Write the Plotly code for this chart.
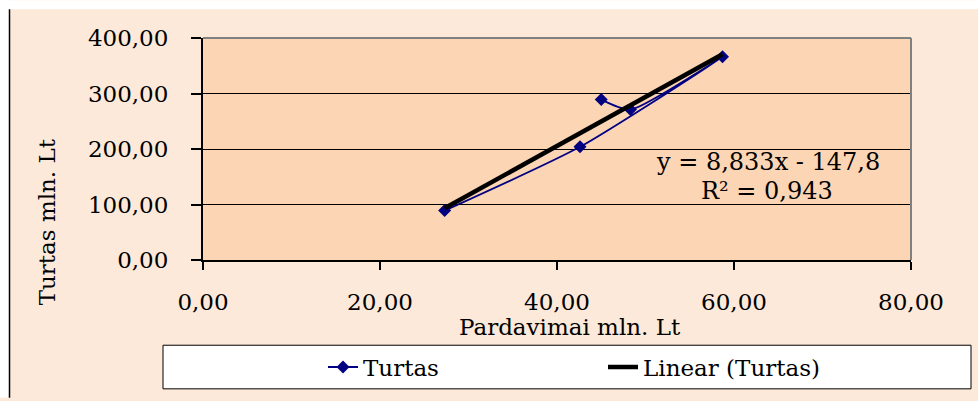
import plotly.graph_objects as go

# ---- data ----
pardavimai = [27.3, 42.6, 58.7, 48.3, 45.0]      # x, mln. Lt
turtas = [89.0, 204.0, 366.0, 271.0, 289.0]      # y, mln. Lt
trend_slope = 8.833
trend_intercept = -147.8
trend_label = "y = 8,833x - 147,8"
r2_label = "R² = 0,943"
x_ticks = [0, 20, 40, 60, 80]
y_ticks = [0, 100, 200, 300, 400]

W, H = 978, 401
L, R, T, B = 203, 911, 38, 262  # plot area in px


def px_x(p):
    return (p - L) / (R - L)


def px_y(p):
    return (B - p) / (B - T)


FONT = "DejaVu Serif"
FS = 23
NAVY = "#000080"

fig = go.Figure()

fig.add_trace(go.Scatter(
    x=pardavimai, y=turtas, name="Turtas", mode="lines+markers",
    line=dict(color=NAVY, width=1.8, shape="spline", smoothing=0.6),
    marker=dict(symbol="diamond", size=10, color=NAVY),
))

tx = [min(pardavimai), max(pardavimai)]
ty = [trend_slope * v + trend_intercept for v in tx]
fig.add_trace(go.Scatter(
    x=tx, y=ty, name="Linear (Turtas)", mode="lines",
    line=dict(color="black", width=4.5),
))

shapes = [
    dict(type="rect", xref="paper", yref="paper", x0=px_x(0), x1=px_x(W), y0=px_y(0), y1=px_y(9),
         fillcolor="white", line=dict(width=0), layer="below"),
    dict(type="rect", xref="paper", yref="paper", x0=px_x(0), x1=px_x(9), y0=px_y(0), y1=px_y(H),
         fillcolor="white", line=dict(width=0), layer="below"),
    dict(type="line", xref="paper", yref="paper", x0=px_x(9.5), x1=px_x(9.5), y0=px_y(9), y1=px_y(H),
         line=dict(color="black", width=1.5)),
    dict(type="line", xref="paper", yref="paper", x0=0, x1=1, y0=1, y1=1,
         line=dict(color="#808080", width=2)),
    dict(type="line", xref="paper", yref="paper", x0=1, x1=1, y0=0, y1=1,
         line=dict(color="#808080", width=2)),
    dict(type="rect", xref="paper", yref="paper", x0=px_x(163), x1=px_x(971), y0=px_y(392), y1=px_y(348),
         fillcolor="white", line=dict(color="black", width=1), layer="below"),
]

annotations = [
    dict(text=trend_label, xref="paper", yref="paper", x=px_x(768), y=px_y(163),
         showarrow=False, font=dict(family=FONT, size=24, color="black"), xanchor="center", yanchor="middle"),
    dict(text=r2_label, xref="paper", yref="paper", x=px_x(767), y=px_y(192),
         showarrow=False, font=dict(family=FONT, size=24, color="black"), xanchor="center", yanchor="middle"),
    dict(text="Turtas mln. Lt", xref="paper", yref="paper", x=px_x(47), y=px_y(224), textangle=-90,
         showarrow=False, font=dict(family=FONT, size=FS, color="black"), xanchor="center", yanchor="middle"),
    dict(text="Pardavimai mln. Lt", xref="paper", yref="paper", x=px_x(570), y=px_y(330),
         showarrow=False, font=dict(family=FONT, size=FS, color="black"), xanchor="center", yanchor="middle"),
]

fig.update_layout(
    width=W, height=H,
    margin=dict(l=L, r=W - R, t=T, b=H - B, pad=0),
    paper_bgcolor="#FDE9D9",
    plot_bgcolor="#FCD5B4",
    separators=",.",
    font=dict(family=FONT, size=FS, color="black"),
    shapes=shapes,
    annotations=annotations,
    showlegend=True,
    legend=dict(
        orientation="h", x=px_x(323), y=px_y(370), xanchor="left", yanchor="middle",
        bgcolor="rgba(0,0,0,0)", borderwidth=0,
        entrywidth=235, entrywidthmode="pixels",
        font=dict(family=FONT, size=FS, color="black"),
    ),
    xaxis=dict(
        range=[0, 80], tickvals=x_ticks, tickformat=".2f",
        showgrid=False, zeroline=False,
        showline=True, linecolor="black", linewidth=2,
        ticks="outside", ticklen=8, tickwidth=1.5, tickcolor="black",
        ticklabelstandoff=12,
    ),
    yaxis=dict(
        range=[0, 400], tickvals=y_ticks, tickformat=".2f",
        showgrid=True, gridcolor="black", gridwidth=1, zeroline=False,
        showline=True, linecolor="black", linewidth=2,
        ticks="outside", ticklen=10, tickwidth=1.5, tickcolor="black",
        ticklabelstandoff=18,
    ),
)

fig.write_html("out.html")
